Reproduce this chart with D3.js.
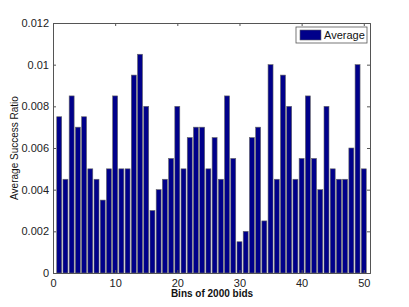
<!DOCTYPE html>
<html>
<head>
<meta charset="utf-8">
<script src="https://cdn.jsdelivr.net/npm/d3@7"></script>
<style>
  body { margin: 0; background: #fff; }
  text { font-family: "Liberation Sans", Arial, sans-serif; }
</style>
</head>
<body>
<svg id="chart" width="409" height="307"></svg>
<script>
// bins 1..50, average success ratio per bin
const bins = d3.range(1, 51)
const averages = [
  0.0075, 0.0045, 0.0085, 0.007, 0.0075, 0.005, 0.0045, 0.0035, 0.005, 0.0085,
  0.005, 0.005, 0.0095, 0.0105, 0.008, 0.003, 0.004, 0.0045, 0.0055, 0.008,
  0.005, 0.0065, 0.007, 0.007, 0.005, 0.0065, 0.0045, 0.0085, 0.0055, 0.0015,
  0.002, 0.0065, 0.007, 0.0025, 0.01, 0.0045, 0.0095, 0.008, 0.0045, 0.0055,
  0.0085, 0.0055, 0.004, 0.008, 0.005, 0.0045, 0.0045, 0.006, 0.01, 0.005
]
const xTicks = [0, 10, 20, 30, 40, 50]
const yTicks = [0, 0.002, 0.004, 0.006, 0.008, 0.01, 0.012]

const svg = d3.select('#chart')
// plot box edges
const plotL = 53, plotR = 370, plotT = 23, plotB = 273

let x = d3.scaleLinear().domain([0, 51]).range([plotL, plotR])
let y = d3.scaleLinear().domain([0, 0.012]).range([plotB, plotT])

const axisColor = '#555'
const tickLen = 3

// bars
const barW = (x(1) - x(0)) * 0.8
svg.append('g').attr('class', 'bars')
  .selectAll('rect')
  .data(bins)
  .enter().append('rect')
  .attr('x', (d) => x(d) - barW / 2)
  .attr('y', (d, i) => y(averages[i]))
  .attr('width', barW)
  .attr('height', (d, i) => y(0) - y(averages[i]))
  .attr('fill', '#00008a')
  .attr('stroke', '#666')
  .attr('stroke-width', 0.6)

// axes: bottom/left with labels, top/right ticks only (inward ticks)
const xAxis = d3.axisBottom(x).tickValues(xTicks).tickSize(-tickLen).tickPadding(6).tickFormat(d3.format('d'))
const yAxis = d3.axisLeft(y).tickValues(yTicks).tickSize(-tickLen).tickPadding(4)
  .tickFormat((d) => d === 0 ? '0' : String(+d.toFixed(3)))

const gx = svg.append('g').attr('transform', `translate(0,${plotB})`).call(xAxis)
const gy = svg.append('g').attr('transform', `translate(${plotL},0)`).call(yAxis)
const gxTop = svg.append('g').attr('transform', `translate(0,${plotT})`)
  .call(d3.axisTop(x).tickValues(xTicks).tickSize(-tickLen).tickFormat(''))
const gyRight = svg.append('g').attr('transform', `translate(${plotR},0)`)
  .call(d3.axisRight(y).tickValues(yTicks).tickSize(-tickLen).tickFormat(''))

;[gx, gy, gxTop, gyRight].forEach((g) => {
  g.select('.domain').attr('stroke', axisColor).attr('stroke-width', 1)
  g.selectAll('.tick line').attr('stroke', axisColor)
  g.selectAll('.tick text').attr('fill', '#222').attr('font-size', 11)
    .attr('font-family', '"Liberation Sans", Arial, sans-serif')
})

// axis labels
svg.append('text')
  .attr('x', (plotL + plotR) / 2 + 0.5)
  .attr('y', 297)
  .attr('text-anchor', 'middle')
  .attr('font-size', 10)
  .attr('font-weight', 'bold')
  .attr('fill', '#111')
  .text('Bins of 2000 bids')

svg.append('text')
  .attr('transform', `translate(18,${(plotT + plotB) / 2}) rotate(-90)`)
  .attr('text-anchor', 'middle')
  .attr('font-size', 10)
  .attr('fill', '#111')
  .text('Average Success Ratio')

// legend
const legend = svg.append('g').attr('transform', 'translate(296,27)')
legend.append('rect')
  .attr('width', 71).attr('height', 16)
  .attr('fill', '#fff').attr('stroke', axisColor).attr('stroke-width', 0.8)
legend.append('rect')
  .attr('x', 4).attr('y', 3).attr('width', 21).attr('height', 10)
  .attr('fill', '#00008a').attr('stroke', '#666').attr('stroke-width', 0.6)
legend.append('text')
  .attr('x', 28).attr('y', 12)
  .attr('font-size', 11).attr('fill', '#111')
  .text('Average')
</script>
</body>
</html>
